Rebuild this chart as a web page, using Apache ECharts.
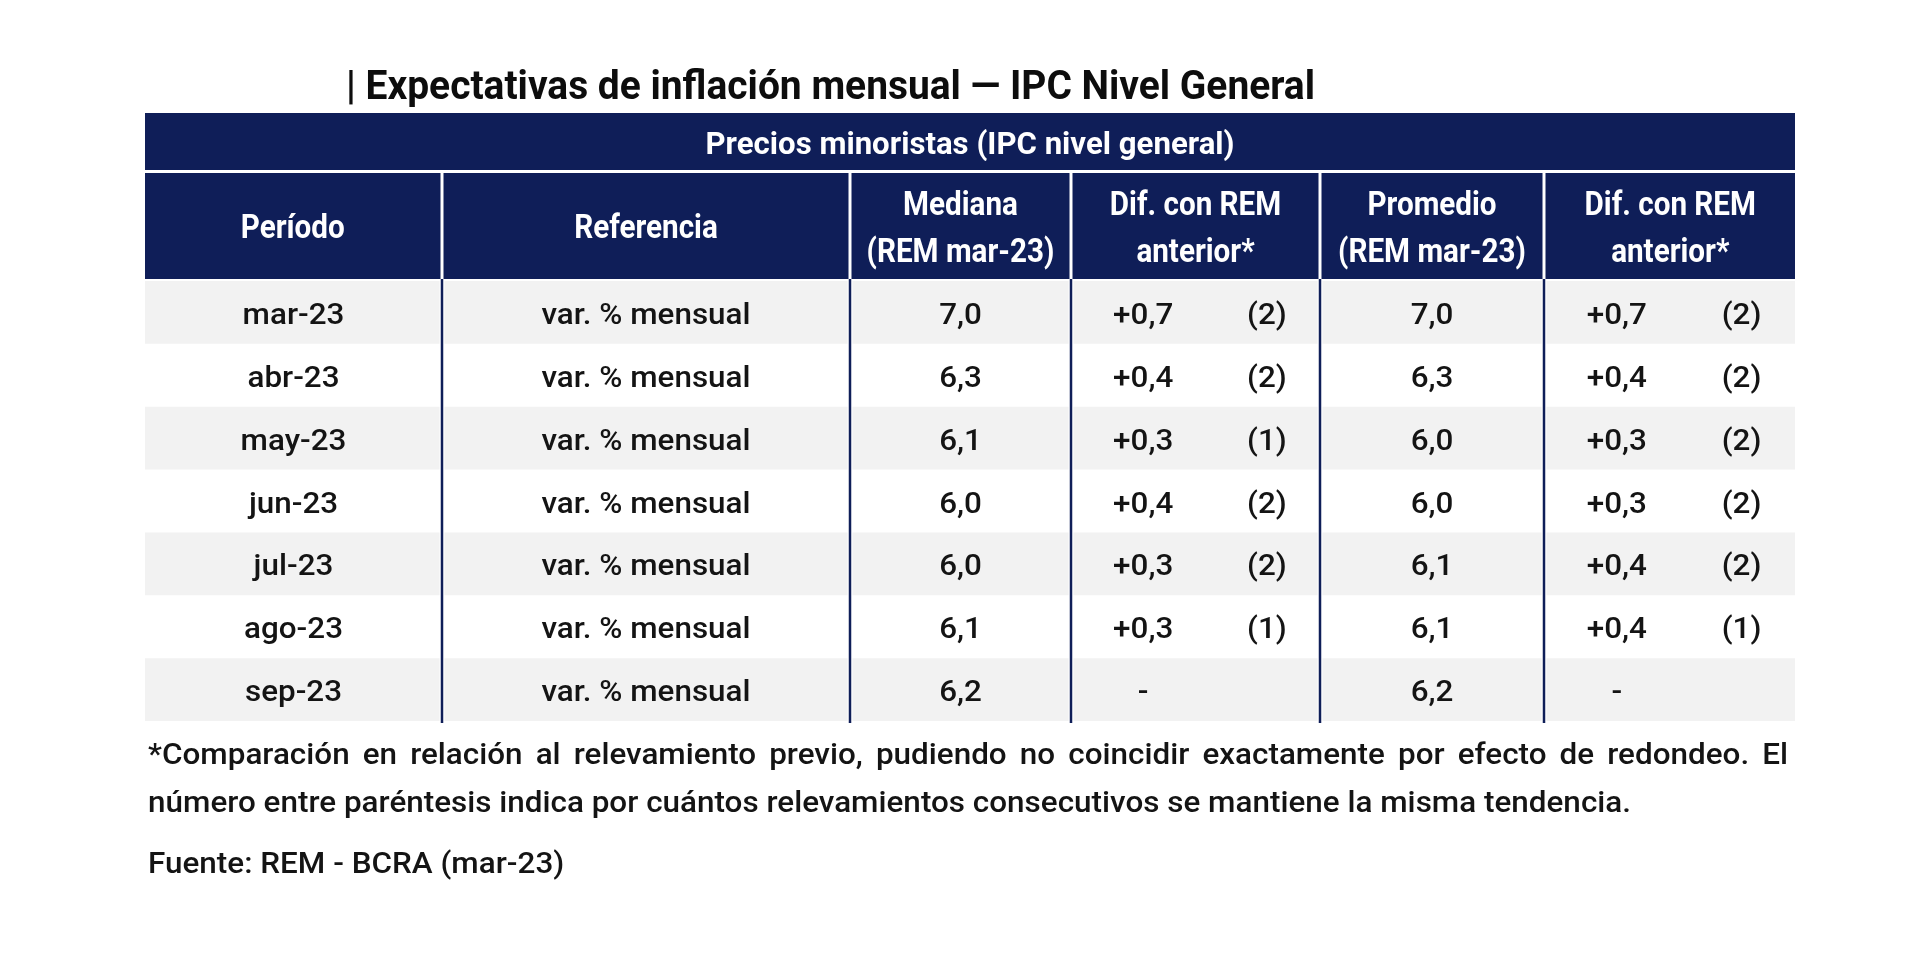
<!DOCTYPE html>
<html><head><meta charset="utf-8">
<script src="https://cdn.jsdelivr.net/npm/echarts@6/dist/echarts.min.js"></script>
<style>html,body{margin:0;padding:0;background:#fff}#c{width:1920px;height:963px}</style>
</head><body><div id="c"></div>
<script>
// ---------- data ----------
const title = '| Expectativas de inflación mensual — IPC Nivel General';
const groupHeader = 'Precios minoristas (IPC nivel general)';
const columnHeaders = ['Período', 'Referencia', 'Mediana\n(REM mar-23)', 'Dif. con REM\nanterior*', 'Promedio\n(REM mar-23)', 'Dif. con REM\nanterior*'];
const periods = ['mar-23', 'abr-23', 'may-23', 'jun-23', 'jul-23', 'ago-23', 'sep-23'];
const reference = ['var. % mensual', 'var. % mensual', 'var. % mensual', 'var. % mensual', 'var. % mensual', 'var. % mensual', 'var. % mensual'];
const mediana = [7.0, 6.3, 6.1, 6.0, 6.0, 6.1, 6.2];
const difMediana = [0.7, 0.4, 0.3, 0.4, 0.3, 0.3, null];
const rachaMediana = [2, 2, 1, 2, 2, 1, null];
const promedio = [7.0, 6.3, 6.0, 6.0, 6.1, 6.1, 6.2];
const difPromedio = [0.7, 0.4, 0.3, 0.3, 0.4, 0.4, null];
const rachaPromedio = [2, 2, 2, 2, 2, 1, null];
const footnote1 = '*Comparación en relación al relevamiento previo, pudiendo no coincidir exactamente por efecto de redondeo. El';
const footnote2 = 'número entre paréntesis indica por cuántos relevamientos consecutivos se mantiene la misma tendencia.';
const source = 'Fuente: REM - BCRA (mar-23)';

// ---------- layout & style ----------
const NAVY = '#0f1e58', GRAY = '#f2f2f2', INK = '#141414';
const FAMILY = 'Roboto';
const colEdges = [0, 297, 705, 926, 1175, 1399, 1650];
const bandTop = 0, bandBottom = 57, headTop = 60, headBottom = 166, dataTop = 168, rowH = 62.86, tableBottom = 610;
const diffPos = [0.29, 0.787];
const F = {
  title: 'bold 40px ' + FAMILY,
  band: 'bold 32px ' + FAMILY,
  head: 'bold 33px ' + FAMILY,
  body: '500 30px ' + FAMILY,
  foot: '500 30px ' + FAMILY
};
const ctx = document.createElement('canvas').getContext('2d');
function measure(t, font) { ctx.font = font; return ctx.measureText(t).width; }
const sx = {
  title: 969 / measure(title, F.title),
  band: 529 / measure(groupHeader, F.band),
  head: 104 / measure('Período', F.head),
  body: 209 / measure('var. % mensual', F.body),
  foot: 1483 / measure(footnote2, F.foot)
};
const DY = 4; // baseline nudge so glyphs sit where the reference's do

const fmt = v => v.toFixed(1).replace('.', ',');
const fmtDiff = v => v == null ? '-' : (v >= 0 ? '+' : '') + fmt(v);
const fmtRacha = v => v == null ? '' : '(' + v + ')';

function txt(x, y, text, font, fill, scale, lineHeight) {
  const style = { text: text, font: font, fill: fill, align: 'center', verticalAlign: 'middle', textAlign: 'center', textVerticalAlign: 'middle' };
  if (lineHeight) style.lineHeight = lineHeight;
  return { type: 'text', x: x, y: y, scaleX: scale, style: style };
}

function cellBox(api, li, ri) {
  const p0 = api.coord([api.value(0), api.value(2)]);
  const p1 = api.coord([api.value(1), api.value(3)]);
  return { x: p0[0] + li, y: p0[1], width: (p1[0] - ri) - (p0[0] + li), height: p1[1] - p0[1] };
}

function cellTexts(r, c) {
  switch (c) {
    case 0: return [[periods[r], 0.5]];
    case 1: return [[reference[r], 0.5]];
    case 2: return [[fmt(mediana[r]), 0.5]];
    case 3: return [[fmtDiff(difMediana[r]), diffPos[0]], [fmtRacha(rachaMediana[r]), diffPos[1]]];
    case 4: return [[fmt(promedio[r]), 0.5]];
    case 5: return [[fmtDiff(difPromedio[r]), diffPos[0]], [fmtRacha(rachaPromedio[r]), diffPos[1]]];
  }
  return [];
}

const bandData = [[colEdges[0], colEdges[colEdges.length - 1], bandTop, bandBottom]];
const headerData = columnHeaders.map((t, c) => [colEdges[c], colEdges[c + 1], headTop, headBottom, c]);
const bodyData = [];
periods.forEach((p, r) => {
  for (let c = 0; c < 6; c++) bodyData.push([colEdges[c], colEdges[c + 1], dataTop + r * rowH, dataTop + (r + 1) * rowH, r, c]);
});
const lineData = colEdges.slice(1, -1).map(x => [x, x, headBottom, tableBottom]);

const chart = echarts.init(document.getElementById('c'), null, { renderer: 'canvas' });

// footnotes (line 1 justified)
const footX0 = 148, footX1 = 1788;
const words = footnote1.split(' ');
const wWidths = words.map(w => measure(w, F.foot) * sx.foot);
const gap = (footX1 - footX0 - wWidths.reduce((a, b) => a + b, 0)) / (words.length - 1);
const leftStyle = (text, font, fill) => ({ text: text, font: font, fill: fill, align: 'left', verticalAlign: 'middle', textAlign: 'left', textVerticalAlign: 'middle' });
const graphics = [];
let cx = footX0;
words.forEach((w, i) => {
  graphics.push({ type: 'text', x: cx, y: 752 + DY, scaleX: sx.foot, silent: true, style: leftStyle(w, F.foot, INK) });
  cx += wWidths[i] + gap;
});
graphics.push({ type: 'text', x: footX0, y: 800 + DY, scaleX: sx.foot, silent: true, style: leftStyle(footnote2, F.foot, INK) });
graphics.push({ type: 'text', x: footX0, y: 861 + DY, scaleX: sx.foot, silent: true, style: leftStyle(source, F.foot, INK) });
graphics.push({ type: 'text', x: 346, y: 86 + DY - 1, scaleX: sx.title, silent: true, style: leftStyle(title, F.title, '#0d0d0d') });

chart.setOption({
  animation: false,
  backgroundColor: '#ffffff',
  grid: { left: 145, top: 113, width: 1650, height: tableBottom, containLabel: false },
  xAxis: { type: 'value', min: 0, max: colEdges[colEdges.length - 1], show: false },
  yAxis: { type: 'value', min: 0, max: tableBottom, inverse: true, show: false },
  graphic: graphics,
  series: [
    {
      type: 'custom', name: 'band', silent: true, data: bandData, encode: { x: [0, 1], y: [2, 3] },
      renderItem: (params, api) => {
        const b = cellBox(api, 0, 0);
        return { type: 'group', children: [
          { type: 'rect', shape: b, style: { fill: NAVY } },
          txt(b.x + b.width / 2, b.y + b.height / 2 + DY, groupHeader, F.band, '#ffffff', sx.band)
        ] };
      }
    },
    {
      type: 'custom', name: 'header', silent: true, data: headerData, encode: { x: [0, 1], y: [2, 3] },
      renderItem: (params, api) => {
        const c = api.value(4);
        const b = cellBox(api, c > 0 ? 1.5 : 0, c < 5 ? 1.5 : 0);
        return { type: 'group', children: [
          { type: 'rect', shape: b, style: { fill: NAVY } },
          txt(b.x + b.width / 2, b.y + b.height / 2 + DY, columnHeaders[c], F.head, '#ffffff', sx.head, 47)
        ] };
      }
    },
    {
      type: 'custom', name: 'body', silent: true, data: bodyData, encode: { x: [0, 1], y: [2, 3] },
      renderItem: (params, api) => {
        const r = api.value(4), c = api.value(5);
        const full = cellBox(api, 0, 0);
        const b = cellBox(api, c > 0 ? 2.5 : 0, c < 5 ? 2.5 : 0);
        const children = [];
        if (r % 2 === 0) children.push({ type: 'rect', shape: b, style: { fill: GRAY } });
        cellTexts(r, c).forEach(([t, f]) => {
          children.push(txt(full.x + full.width * f, full.y + full.height / 2 + DY, t, F.body, INK, sx.body));
        });
        return { type: 'group', children: children };
      }
    },
    {
      type: 'custom', name: 'rules', silent: true, data: lineData, encode: { x: [0, 1], y: [2, 3] },
      renderItem: (params, api) => {
        const p0 = api.coord([api.value(0), api.value(2)]);
        const p1 = api.coord([api.value(1), api.value(3)]);
        return { type: 'line', shape: { x1: p0[0], y1: p0[1], x2: p1[0], y2: p1[1] }, style: { stroke: NAVY, lineWidth: 2.5 } };
      }
    }
  ]
});
</script>
</body></html>
